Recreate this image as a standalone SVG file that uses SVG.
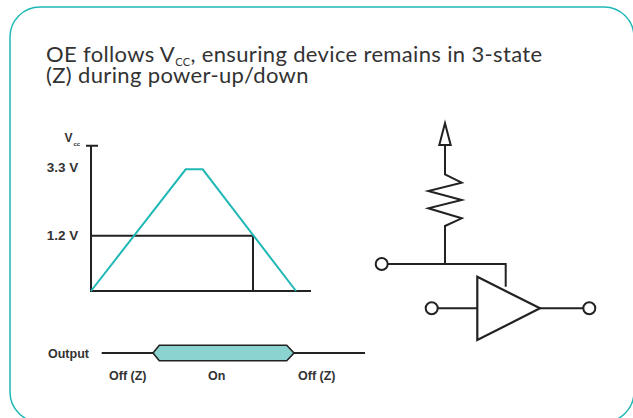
<svg xmlns="http://www.w3.org/2000/svg" width="633" height="418" viewBox="0 0 633 418">
<style>
.t{font-family:Lato,"Noto Sans","Liberation Sans",sans-serif;fill:#333}
.title{font-size:22px;letter-spacing:0.35px}
.lbl{font-family:"Liberation Sans",Arial,sans-serif;font-weight:bold;fill:#333;font-size:13.5px}
.sm{font-family:"Liberation Sans",Arial,sans-serif;font-weight:bold;fill:#333;font-size:12.5px}
.k{fill:none;stroke:#222;stroke-width:2}
.teal{fill:none;stroke:#1fb8b5;stroke-width:2}
</style>
<rect id="frame" x="10" y="7" width="624" height="415" rx="30" fill="#fff" stroke="#1fb8b5" stroke-width="1.5"/>
<g id="title">
<text class="t title" x="46" y="61.5">OE follows V<tspan font-size="11" dy="4">CC</tspan><tspan dy="-4">, ensuring device remains in 3-state</tspan></text>
<text class="t title" x="46" y="83">(Z) during power-up/down</text>
</g>
<g id="chart">
<text class="lbl" x="64.5" y="142.3" style="font-size:12px">V</text>
<text class="lbl" x="73.5" y="145.7" style="font-size:6px">cc</text>
<text class="lbl" x="46.7" y="172.3">3.3 V</text>
<text class="lbl" x="46.7" y="240">1.2 V</text>
<path class="k" d="M86 145.7H98M91 145.7V291H311"/>
<path class="k" d="M91 235.7H253V291"/>
<path class="teal" d="M91 291L185.7 169.3H202.7L296 291"/>
</g>
<g id="output">
<text class="sm" x="48" y="357.5">Output</text>
<path class="k" d="M101.7 353H153M294 353H365"/>
<path d="M153 353L159.3 345.3H286.7L294 353L286.7 360.7H159.3Z" fill="#8bd3d0" stroke="#222" stroke-width="1.6"/>
<text class="sm" x="109" y="380">Off (Z)</text>
<text class="sm" x="208" y="380">On</text>
<text class="sm" x="298" y="380">Off (Z)</text>
</g>
<g id="circuit">
<path d="M445 123.3L450.7 145H439.3Z" fill="#fff" stroke="#222" stroke-width="2" stroke-linejoin="miter"/>
<path class="k" d="M445 145V174.3L461.7 182.7L428.3 191L461.7 200L428.3 208.3L461.7 218.3L445 226V264"/>
<path class="k" d="M387.7 264H505.7V286.7"/>
<path d="M477.3 276.7L540 308.3L477.3 340Z" fill="#fff" stroke="#222" stroke-width="2.2" stroke-linejoin="miter"/>
<path class="k" d="M437.7 308.3H477.3M540 308.3H583.3"/>
<circle cx="381.7" cy="264" r="6" fill="#fff" stroke="#222" stroke-width="2"/>
<circle cx="431.7" cy="308.3" r="6" fill="#fff" stroke="#222" stroke-width="2"/>
<circle cx="589.3" cy="308.3" r="6" fill="#fff" stroke="#222" stroke-width="2"/>
</g>
</svg>
